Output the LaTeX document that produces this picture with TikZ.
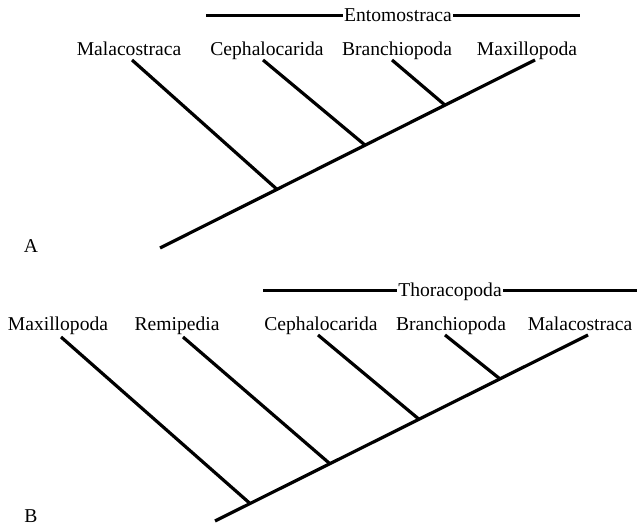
\documentclass[tikz,border=0pt]{standalone}
\usepackage{fontspec}
\setmainfont{Liberation Serif}
\usetikzlibrary{positioning,calc}

\begin{document}
\begin{tikzpicture}[
    x=0.75pt, y=-0.75pt,
    taxon/.style={anchor=base, inner sep=0pt, font=\fontsize{14.7}{17}\selectfont},
    group/.style={taxon, inner sep=1pt, text depth=0pt},
    branch/.style={line width=2.4pt},
    bar/.style={line width=2.2pt}
]
\useasboundingbox (0,0) rectangle (637,531);
\node[taxon] (malA) at (129,56) {Malacostraca};
\node[taxon] (cephA) at (267,56) {Cephalocarida};
\node[taxon] (branA) at (397,56) {Branchiopoda};
\node[taxon] (maxA) at (527,56) {Maxillopoda};
\node[group] (ento) at (398,21.5) {Entomostraca};
\node[taxon] (panelA) at (31,253) {A};
\coordinate (entoL) at (206,0);
\coordinate (entoR) at (580,0);
\coordinate (rootA) at (160,248);
\coordinate (tipA) at (535,60);
\coordinate (malAtip) at (132,60);
\coordinate (cephAtip) at (263,60);
\coordinate (branAtip) at (392,60);
\coordinate (jA1) at ($(rootA)!0.312!(tipA)$);
\coordinate (jA2) at ($(rootA)!0.547!(tipA)$);
\coordinate (jA3) at ($(rootA)!0.760!(tipA)$);
\draw[bar] (ento.west) -- (ento.west -| entoL);
\draw[bar] (ento.east) -- (ento.east -| entoR);
\draw[branch] (rootA) -- (tipA);
\draw[branch] (malAtip) -- (jA1);
\draw[branch] (cephAtip) -- (jA2);
\draw[branch] (branAtip) -- (jA3);
\node[taxon] (maxB) at (58,331) {Maxillopoda};
\node[taxon] (remB) at (177,331) {Remipedia};
\node[taxon] (cephB) at (321,331) {Cephalocarida};
\node[taxon] (branB) at (451,331) {Branchiopoda};
\node[taxon] (malB) at (580,331) {Malacostraca};
\node[group] (thor) at (450,297) {Thoracopoda};
\node[taxon] (panelB) at (31,523) {B};
\coordinate (thorL) at (263,0);
\coordinate (thorR) at (637,0);
\coordinate (rootB) at (215,521);
\coordinate (tipB) at (588,335);
\coordinate (maxBtip) at (61,337);
\coordinate (remBtip) at (183,337);
\coordinate (cephBtip) at (318,335);
\coordinate (branBtip) at (445,335);
\coordinate (jB1) at ($(rootB)!0.094!(tipB)$);
\coordinate (jB2) at ($(rootB)!0.308!(tipB)$);
\coordinate (jB3) at ($(rootB)!0.547!(tipB)$);
\coordinate (jB4) at ($(rootB)!0.764!(tipB)$);
\draw[bar] (thor.west) -- (thor.west -| thorL);
\draw[bar] (thor.east) -- (thor.east -| thorR);
\draw[branch] (rootB) -- (tipB);
\draw[branch] (maxBtip) -- (jB1);
\draw[branch] (remBtip) -- (jB2);
\draw[branch] (cephBtip) -- (jB3);
\draw[branch] (branBtip) -- (jB4);
\end{tikzpicture}
\end{document}
